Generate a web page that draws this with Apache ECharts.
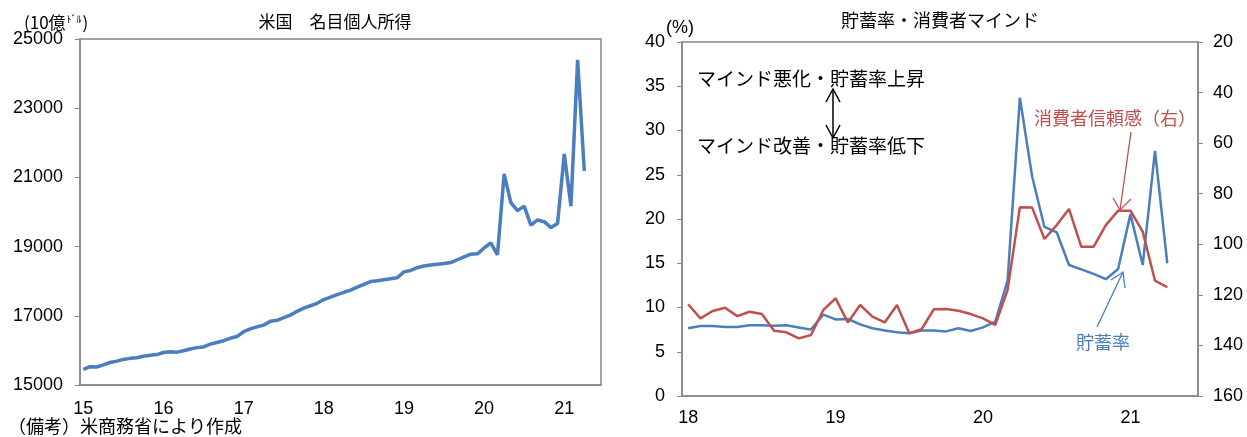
<!DOCTYPE html>
<html>
<head>
<meta charset="utf-8">
<script src="https://cdn.jsdelivr.net/npm/echarts@6/dist/echarts.min.js"></script>
<style>
  html, body { margin: 0; padding: 0; background: #fff; }
  #chart { width: 1247px; height: 437px; }
</style>
</head>
<body>
<div id="chart"></div>
<script>
// ---- data ----
// 米国 名目個人所得 (10億ドル, 月次, 2015年1月〜2021年4月)
const incomeStartYear = 2015;
const incomeEndYear = 2021;
const incomeEndMonth = 6; // axis runs through 2021/06
const incomeValues = [
  15450, 15530, 15520, 15580, 15650, 15690, 15740, 15770, 15790, 15830, 15860, 15880,
  15940, 15960, 15950, 15990, 16040, 16080, 16100, 16180, 16230, 16280, 16350, 16400,
  16540, 16620, 16680, 16730, 16840, 16870, 16950, 17020, 17130, 17220, 17290, 17360,
  17470, 17540, 17610, 17680, 17740, 17830, 17910, 17990, 18010, 18040, 18070, 18100,
  18270, 18310, 18390, 18440, 18470, 18490, 18510, 18540, 18620, 18700, 18780, 18790,
  18960, 19110, 18760, 21100, 20270, 20040, 20170, 19620, 19770, 19720, 19550, 19670,
  21680, 20170, 24400, 21190
];

// 貯蓄率 (%) と 消費者信頼感 (月次, 2018年1月〜2021年4月)
const mindStartYear = 2018;
const savingRate = [
  7.65, 7.9, 7.9, 7.8, 7.8, 8.0, 8.0, 7.95, 8.0, 7.75, 7.5, 9.2,
  8.65, 8.7, 8.1, 7.65, 7.4, 7.2, 7.1, 7.4, 7.4, 7.3, 7.65, 7.35,
  7.75, 8.4, 13.0, 33.7, 24.8, 19.1, 18.5, 14.8, 14.3, 13.8, 13.2, 14.35,
  20.55, 14.8, 27.7, 15.0
];
const consumerConfidence = [
  123.7, 129.3, 126.4, 125.1, 128.4, 126.7, 127.6, 134.2, 134.8, 137.2, 135.9, 126.0,
  121.4, 130.9, 124.0, 128.6, 130.9, 124.0, 135.2, 133.6, 125.7, 125.6, 126.3, 127.6,
  129.3, 131.9, 118.1, 85.4, 85.5, 97.9, 92.4, 86.0, 101.0, 101.0, 92.4, 86.7,
  86.7, 95.0, 114.4, 117.0
];

// month categories "YY/MM"
function monthCategories(startYear, endYear, endMonth) {
  const out = [];
  for (let y = startYear; y <= endYear; y++) {
    for (let m = 1; m <= 12; m++) {
      if (y === endYear && m > endMonth) break;
      out.push(String(y).slice(2) + '/' + String(m).padStart(2, '0'));
    }
  }
  return out;
}
const incomeMonths = monthCategories(incomeStartYear, incomeEndYear, incomeEndMonth);
const mindMonths = monthCategories(mindStartYear, 2021, 6);

// ---- styles ----
const BLUE = '#4A7EBF';
const RED = '#C0504D';
const AXIS = '#868686';
const NUM_FONT = '"Liberation Sans", Arial, sans-serif';
const JP_FONT = '"Noto Sans CJK JP", sans-serif';

const chart = echarts.init(document.getElementById('chart'), null, { renderer: 'canvas' });

const yearLabel = {
  interval: (i, v) => v.endsWith('/01'),
  formatter: v => v.split('/')[0],
  fontSize: 18, color: '#000', fontFamily: NUM_FONT, margin: 15
};
const plainNumber = v => String(v);

function arrowHead(tip, a, b, color, w) {
  return { type: 'polyline', shape: { points: [a, tip, b] },
    style: { stroke: color, lineWidth: w, fill: null }, z: 100 };
}
function seg(p1, p2, color, w) {
  return { type: 'line', shape: { x1: p1[0], y1: p1[1], x2: p2[0], y2: p2[1] },
    style: { stroke: color, lineWidth: w }, z: 100 };
}

const option = {
  animation: false,
  backgroundColor: '#fff',
  title: [
    { text: '米国　名目個人所得', left: 330, top: 8, textAlign: 'center',
      textStyle: { fontSize: 17, fontWeight: 'normal', color: '#000', fontFamily: JP_FONT } },
    { text: '貯蓄率・消費者マインド', left: 935, top: 6, textAlign: 'center',
      textStyle: { fontSize: 18, fontWeight: 'normal', color: '#000', fontFamily: JP_FONT } }
  ],
  grid: [
    { left: 80, top: 39, width: 521, height: 346, show: true, borderColor: AXIS, borderWidth: 1.5, backgroundColor: 'transparent' },
    { left: 682, top: 42, width: 516, height: 354, show: true, borderColor: AXIS, borderWidth: 1.5, backgroundColor: 'transparent' }
  ],
  xAxis: [
    { type: 'category', gridIndex: 0, data: incomeMonths, boundaryGap: true,
      axisLine: { lineStyle: { color: AXIS, width: 1.5 } }, axisTick: { show: false },
      axisLabel: yearLabel, splitLine: { show: false } },
    { type: 'category', gridIndex: 1, data: mindMonths, boundaryGap: true,
      axisLine: { lineStyle: { color: AXIS, width: 1.5 } }, axisTick: { show: false },
      axisLabel: Object.assign({}, yearLabel, { margin: 13 }), splitLine: { show: false } }
  ],
  yAxis: [
    { type: 'value', gridIndex: 0, min: 15000, max: 25000, interval: 2000,
      axisLine: { show: true, lineStyle: { color: AXIS, width: 1.5 } },
      axisTick: { show: true, length: 5, lineStyle: { color: AXIS } },
      axisLabel: { fontSize: 18, color: '#000', fontFamily: NUM_FONT, margin: 17, formatter: plainNumber },
      splitLine: { show: false } },
    { type: 'value', gridIndex: 1, min: 0, max: 40, interval: 5,
      axisLine: { show: true, lineStyle: { color: AXIS, width: 1.5 } },
      axisTick: { show: true, length: 5, lineStyle: { color: AXIS } },
      axisLabel: { fontSize: 18, color: '#000', fontFamily: NUM_FONT, margin: 17, formatter: plainNumber },
      splitLine: { show: false } },
    { type: 'value', gridIndex: 1, position: 'right', inverse: true, min: 20, max: 160, interval: 20,
      axisLine: { show: true, lineStyle: { color: AXIS, width: 1.5 } },
      axisTick: { show: true, length: 5, lineStyle: { color: AXIS } },
      axisLabel: { fontSize: 18, color: '#000', fontFamily: NUM_FONT, margin: 15, formatter: plainNumber },
      splitLine: { show: false } }
  ],
  series: [
    { name: '名目個人所得', type: 'line', xAxisIndex: 0, yAxisIndex: 0, data: incomeValues,
      symbol: 'none', lineStyle: { color: BLUE, width: 3.5 }, z: 3 },
    { name: '貯蓄率', type: 'line', xAxisIndex: 1, yAxisIndex: 1, data: savingRate,
      symbol: 'none', lineStyle: { color: BLUE, width: 2.5 }, z: 3 },
    { name: '消費者信頼感', type: 'line', xAxisIndex: 1, yAxisIndex: 2, data: consumerConfidence,
      symbol: 'none', lineStyle: { color: RED, width: 2.5 }, z: 4 }
  ],
  graphic: [
    // unit labels
    { type: 'text', left: 24, top: 14, z: 100,
      style: { text: '{a|(10億}{b|ﾄﾞﾙ}{a|)}', rich: {
        a: { fontSize: 17, fontFamily: JP_FONT, fill: '#000' },
        b: { fontSize: 10, fontFamily: JP_FONT, fill: '#000', verticalAlign: 'top', padding: [0, 1, 8, 1] } } } },
    { type: 'text', left: 666, top: 19, z: 100,
      style: { text: '(%)', fontSize: 18, fontFamily: NUM_FONT, fill: '#000' } },
    // source note
    { type: 'text', left: 8, top: 417, z: 100,
      style: { text: '（備考）米商務省により作成', fontSize: 18, fontFamily: JP_FONT, fill: '#000' } },
    // direction notes
    { type: 'text', left: 697, top: 69, z: 100,
      style: { text: 'マインド悪化・貯蓄率上昇', fontSize: 19, fontFamily: JP_FONT, fill: '#000' } },
    { type: 'text', left: 697, top: 136, z: 100,
      style: { text: 'マインド改善・貯蓄率低下', fontSize: 19, fontFamily: JP_FONT, fill: '#000' } },
    seg([833, 89], [833, 138], '#000', 1.5),
    arrowHead([833, 89], [826, 102], [840, 102], '#000', 1.5),
    arrowHead([833, 138], [826, 125], [840, 125], '#000', 1.5),
    // series callouts
    { type: 'text', left: 1034, top: 109, z: 100,
      style: { text: '消費者信頼感（右）', fontSize: 18, fontFamily: JP_FONT, fill: RED } },
    seg([1131, 132], [1120, 210], RED, 1.3),
    arrowHead([1120, 210], [1113, 198], [1131, 199], RED, 1.3),
    { type: 'text', left: 1076, top: 333, z: 100,
      style: { text: '貯蓄率', fontSize: 18, fontFamily: JP_FONT, fill: BLUE } },
    seg([1097, 327], [1123, 272], BLUE, 1.3),
    arrowHead([1123, 272], [1111, 280], [1125, 288], BLUE, 1.3)
  ]
};

chart.setOption(option);
</script>
</body>
</html>
